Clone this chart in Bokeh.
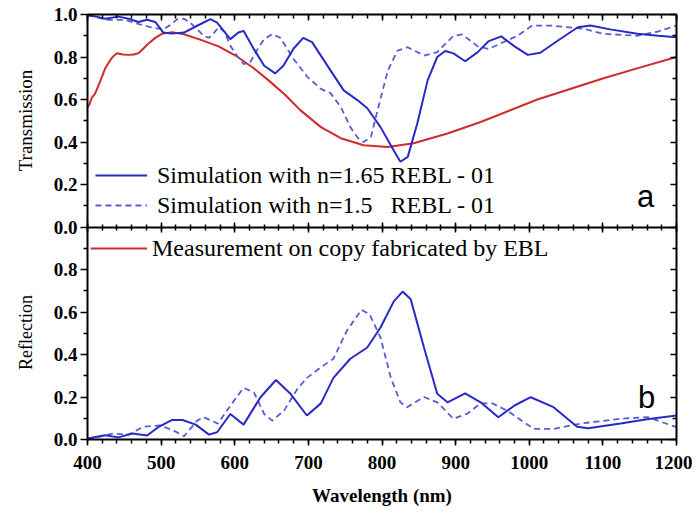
from bokeh.plotting import figure
from bokeh.models import (Range1d, LinearAxis, FixedTicker, SingleIntervalTicker,
                          Legend, LegendItem, Label, ColumnDataSource)
from bokeh.embed import file_html
from bokeh.resources import INLINE
import math

# ---------------- data ----------------
# Transmission, simulation n=1.65 (solid)
t165_wl = [400, 412, 424, 442, 456, 469, 481, 492, 503, 515, 531, 549, 567, 576, 594,
           605, 612, 626, 640, 655, 666, 680, 693, 705, 730, 748, 767, 780, 798, 816,
           825, 835, 848, 862, 875, 886, 897, 913, 930, 945, 962, 980, 998, 1015, 1040,
           1066, 1083, 1110, 1147, 1175, 1200]
t165_val = [0.995, 0.99, 0.98, 0.99, 0.98, 0.965, 0.975, 0.965, 0.915, 0.91, 0.915, 0.947,
            0.978, 0.962, 0.884, 0.915, 0.923, 0.837, 0.759, 0.723, 0.759, 0.84, 0.89, 0.87,
            0.737, 0.643, 0.596, 0.559, 0.47, 0.36, 0.307, 0.33, 0.488, 0.69, 0.80, 0.828,
            0.817, 0.78, 0.823, 0.875, 0.897, 0.85, 0.81, 0.82, 0.88, 0.94, 0.948, 0.93,
            0.909, 0.90, 0.893]

# Transmission, simulation n=1.5 (dashed)
t15_wl = [400, 425, 450, 470, 486, 503, 512, 522, 531, 540, 549, 558, 565, 571, 578, 586,
          594, 603, 612, 621, 631, 640, 651, 662, 680, 699, 717, 730, 744, 757, 767, 775,
          785, 794, 808, 821, 835, 857, 875, 897, 909, 930, 945, 965, 984, 1004, 1029,
          1074, 1101, 1147, 1175, 1200]
t15_val = [1.0, 0.975, 0.975, 0.955, 0.94, 0.93, 0.95, 0.978, 0.98, 0.96, 0.93, 0.90, 0.89,
           0.91, 0.94, 0.92, 0.853, 0.806, 0.767, 0.775, 0.837, 0.884, 0.908, 0.89, 0.79,
           0.705, 0.65, 0.63, 0.565, 0.47, 0.42, 0.40, 0.424, 0.55, 0.737, 0.83, 0.846,
           0.807, 0.823, 0.90, 0.906, 0.85, 0.838, 0.87, 0.90, 0.948, 0.948, 0.933, 0.909,
           0.90, 0.92, 0.948]

# Transmission, measurement on copy fabricated by EBL
tm_wl = [400, 403, 406, 410, 415, 420, 424, 429, 434, 440, 448, 456, 463, 469, 476, 483,
         492, 501, 515, 531, 556, 578, 601, 624, 646, 669, 689, 717, 744, 775, 808, 843,
         889, 934, 1011, 1101, 1150, 1200]
tm_val = [0.563, 0.58, 0.61, 0.625, 0.667, 0.71, 0.746, 0.775, 0.80, 0.818, 0.812, 0.81,
          0.812, 0.818, 0.84, 0.864, 0.89, 0.909, 0.917, 0.907, 0.878, 0.85, 0.807, 0.752,
          0.69, 0.62, 0.55, 0.47, 0.418, 0.385, 0.376, 0.394, 0.44, 0.494, 0.60, 0.70,
          0.75, 0.80]

# Reflection, simulation n=1.65 (solid)
r165_wl = [400, 424, 442, 461, 481, 496, 515, 529, 547, 565, 576, 594, 612, 635, 656, 676,
           698, 717, 734, 757, 780, 798, 816, 828, 839, 857, 875, 889, 913, 934, 958, 980,
           1002, 1033, 1065, 1080, 1124, 1160, 1200]
r165_val = [0.005, 0.02, 0.01, 0.028, 0.019, 0.058, 0.092, 0.092, 0.07, 0.023, 0.034, 0.12,
            0.07, 0.199, 0.28, 0.214, 0.113, 0.17, 0.29, 0.38, 0.433, 0.527, 0.65, 0.696,
            0.66, 0.433, 0.215, 0.175, 0.217, 0.175, 0.105, 0.16, 0.199, 0.152, 0.06, 0.053,
            0.075, 0.095, 0.113]

# Reflection, simulation n=1.5 (dashed)
r15_wl = [400, 434, 456, 476, 499, 517, 531, 549, 558, 577, 599, 612, 626, 640, 651, 667,
          685, 698, 717, 734, 752, 772, 783, 798, 812, 825, 834, 857, 875, 897, 916, 934,
          950, 970, 1006, 1033, 1070, 1124, 1161, 1200]
r15_val = [0.0, 0.028, 0.023, 0.06, 0.066, 0.042, 0.015, 0.089, 0.105, 0.075, 0.183, 0.243,
           0.222, 0.12, 0.089, 0.136, 0.238, 0.29, 0.34, 0.38, 0.51, 0.61, 0.59, 0.48, 0.29,
           0.175, 0.152, 0.2, 0.175, 0.098, 0.122, 0.17, 0.17, 0.136, 0.05, 0.05, 0.075,
           0.098, 0.105, 0.058]

# left-axis ticks: bottom panel (Reflection) 0..1, top panel (Transmission) 1..2
y_tick_values = [0.0, 0.2, 0.4, 0.6, 0.8, 1.0, 1.2, 1.4, 1.6, 1.8, 2.0]
y_tick_labels = ["0.0", "0.2", "0.4", "0.6", "0.8", "0.0", "0.2", "0.4", "0.6", "0.8", "1.0"]
y_minor_values = [0.1, 0.3, 0.5, 0.7, 0.9, 1.1, 1.3, 1.5, 1.7, 1.9]

label_sim165 = "Simulation with n=1.65 REBL - 01"
label_sim15 = "Simulation with n=1.5\u00a0\u00a0\u00a0REBL - 01"
label_meas = "Measurement on copy fabricated by EBL"

# ---------------- layout (pixels) ----------------
W, H = 692, 510
PX_LEFT, PX_RIGHT, PX_TOP, PX_BOTTOM = 87, 676, 14, 439
X0, X1 = 400, 1200
sx = (PX_RIGHT - PX_LEFT) / (X1 - X0)
sy = (PX_BOTTOM - PX_TOP) / 2.0
x_start = X0 - PX_LEFT / sx
x_end = X1 + (W - PX_RIGHT) / sx
y_start = -(H - PX_BOTTOM) / sy
y_end = 2.0 + PX_TOP / sy

C_SOLID = "#2929c8"
C_DASH = "#5b5bd6"
C_RED = "#cf2b2b"
SERIF = "Liberation Serif"
TICK_FONT = "19px"

# the frame covers the whole canvas; the chart box is drawn with fixed axes
p = figure(width=W, height=H, x_range=Range1d(x_start, x_end), y_range=Range1d(y_start, y_end),
           x_axis_type=None, y_axis_type=None,
           output_backend="svg", toolbar_location=None, min_border=0)
p.extra_y_ranges = {"top": Range1d(y_start - 1.0, y_end - 1.0)}
p.xgrid.visible = False
p.ygrid.visible = False
p.outline_line_color = None
p.background_fill_color = "white"
p.border_fill_color = "white"

# ---- lines ----
src_t165 = ColumnDataSource(dict(x=t165_wl, y=t165_val))
src_t15 = ColumnDataSource(dict(x=t15_wl, y=t15_val))
src_tm = ColumnDataSource(dict(x=tm_wl, y=tm_val))
src_r165 = ColumnDataSource(dict(x=r165_wl, y=r165_val))
src_r15 = ColumnDataSource(dict(x=r15_wl, y=r15_val))

r_tm = p.line("x", "y", source=src_tm, y_range_name="top", line_color=C_RED, line_width=2)
r_t15 = p.line("x", "y", source=src_t15, y_range_name="top", line_color=C_DASH,
               line_width=1.8, line_dash="6 4")
r_t165 = p.line("x", "y", source=src_t165, y_range_name="top", line_color=C_SOLID, line_width=2)
r_r15 = p.line("x", "y", source=src_r15, line_color=C_DASH, line_width=1.8, line_dash="6 4")
r_r165 = p.line("x", "y", source=src_r165, line_color=C_SOLID, line_width=2)

# ---- axes (all at fixed data positions) ----
xticker = SingleIntervalTicker(interval=100, num_minor_ticks=5)
yticker = FixedTicker(ticks=y_tick_values, minor_ticks=y_minor_values)


def style_axis(ax, tin, tout, min_in, min_out, labels=True):
    ax.axis_line_color = "black"
    ax.axis_line_width = 2
    ax.major_tick_line_color = "black"
    ax.minor_tick_line_color = "black"
    ax.major_tick_line_width = 1.5
    ax.minor_tick_line_width = 1.5
    ax.major_tick_in = tin
    ax.major_tick_out = tout
    ax.minor_tick_in = min_in
    ax.minor_tick_out = min_out
    ax.major_label_text_font = SERIF
    ax.major_label_text_font_style = "bold"
    ax.major_label_text_font_size = TICK_FONT
    ax.major_label_text_color = "black" if labels else None
    ax.axis_label = None


x_bottom = LinearAxis(ticker=xticker, fixed_location=0.0, bounds=(X0, X1))
style_axis(x_bottom, 0, 6, 0, 4)
x_bottom.major_label_standoff = 10
p.add_layout(x_bottom, "below")

x_mid = LinearAxis(ticker=xticker, fixed_location=1.0, bounds=(X0, X1))
style_axis(x_mid, 5, 5, 3, 3, labels=False)
p.add_layout(x_mid, "below")

x_top = LinearAxis(ticker=xticker, fixed_location=2.0, bounds=(X0, X1))
style_axis(x_top, 6, 0, 4, 0, labels=False)
p.add_layout(x_top, "above")

y_left = LinearAxis(ticker=yticker, fixed_location=X0, bounds=(0, 2))
style_axis(y_left, 0, 7, 0, 4)
y_left.major_label_standoff = 3
y_left.major_label_overrides = dict(zip(y_tick_values, y_tick_labels))
p.add_layout(y_left, "left")

y_right = LinearAxis(ticker=yticker, fixed_location=X1, bounds=(0, 2))
style_axis(y_right, 6, 0, 4, 0, labels=False)
p.add_layout(y_right, "right")

# ---- axis titles and panel letters ----
p.add_layout(Label(x=25, y=H - 120, x_units="screen", y_units="screen", text="Transmission",
                   angle=math.pi / 2, text_align="center", text_baseline="middle",
                   text_font=SERIF, text_font_size="19px", text_color="black"))
p.add_layout(Label(x=25, y=H - 332, x_units="screen", y_units="screen", text="Reflection",
                   angle=math.pi / 2, text_align="center", text_baseline="middle",
                   text_font=SERIF, text_font_size="18px", text_color="black"))
p.add_layout(Label(x=(X0 + X1) / 2, y=H - 495, y_units="screen", text="Wavelength (nm)",
                   text_align="center", text_baseline="middle",
                   text_font=SERIF, text_font_style="bold", text_font_size="19px",
                   text_color="black"))
p.add_layout(Label(x=645, y=H - 196, x_units="screen", y_units="screen", text="a",
                   text_align="center", text_baseline="middle",
                   text_font="Liberation Sans", text_font_size="31px", text_color="black"))
p.add_layout(Label(x=646, y=H - 397, x_units="screen", y_units="screen", text="b",
                   text_align="center", text_baseline="middle",
                   text_font="Liberation Sans", text_font_size="31px", text_color="black"))


# ---- legends (one row each) ----
def make_legend(label, renderer, loc, gw, standoff):
    lg = Legend(items=[LegendItem(label=label, renderers=[renderer])], location=loc)
    lg.label_text_font = SERIF
    lg.label_text_font_size = "24px"
    lg.label_text_color = "black"
    lg.background_fill_alpha = 0
    lg.border_line_color = None
    lg.padding = 0
    lg.margin = 0
    lg.label_height = 30
    lg.glyph_height = 30
    lg.label_standoff = standoff
    lg.glyph_width = gw
    p.add_layout(lg)
    return lg


make_legend(label_sim165, r_t165, (95, H - 190), 52, 10)
make_legend(label_sim15, r_t15, (95, H - 220), 52, 10)
make_legend(label_meas, r_tm, (90, H - 263), 57, 5)

open("out.html", "w").write(file_html(p, INLINE))
